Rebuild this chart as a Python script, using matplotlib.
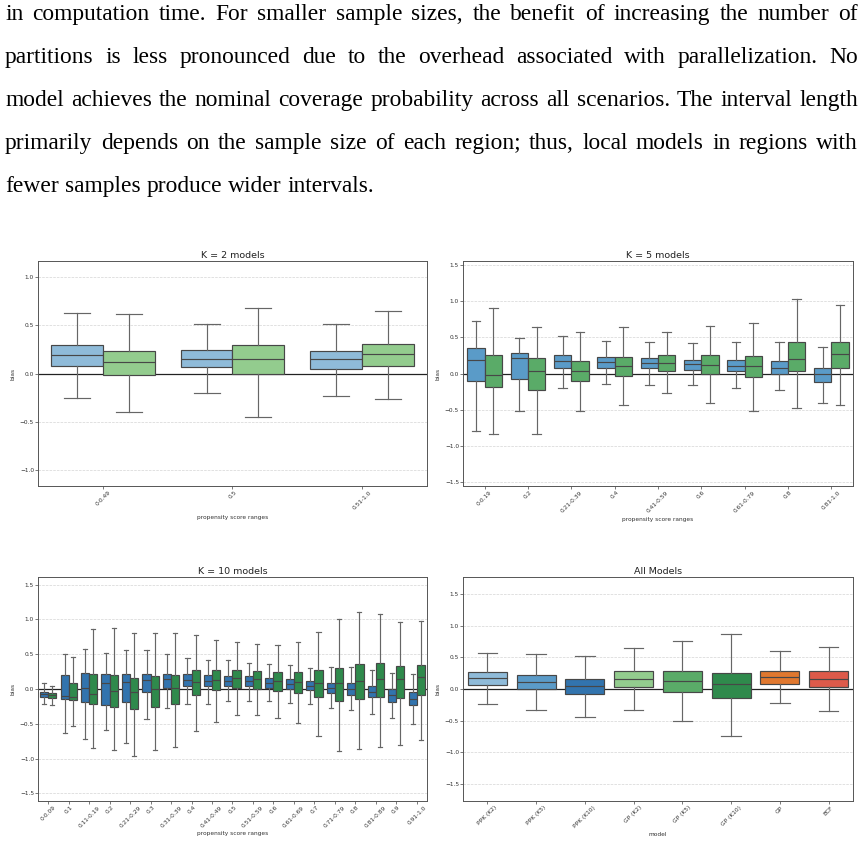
import numpy as np
import matplotlib
matplotlib.use('Agg')
from matplotlib import pyplot as plt
from matplotlib.ticker import MultipleLocator

# paragraph text shown above the figure
text_lines = [
    "in computation time.  For smaller sample sizes, the benefit of increasing the number of",
    "partitions is less pronounced due to the overhead associated with parallelization.  No",
    "model achieves the nominal coverage probability across all scenarios. The interval length",
    "primarily depends on the sample size of each region; thus, local models in regions with",
    "fewer samples produce wider intervals.",
]

# box stats, each row = [whislo, q1, median, q3, whishi]
k2_labels = ['0-0.49', '0.5', '0.51-1.0']
k2_ppk = [[-0.25, 0.08, 0.19, 0.295, 0.625],
          [-0.205, 0.063, 0.156, 0.247, 0.51],
          [-0.23, 0.052, 0.146, 0.233, 0.517]]
k2_gp = [[-0.405, -0.017, 0.115, 0.233, 0.618],
         [-0.45, -0.01, 0.156, 0.30, 0.68],
         [-0.264, 0.08, 0.198, 0.302, 0.646]]

k5_labels = ['0-0.19', '0.2', '0.21-0.39', '0.4', '0.41-0.59',
             '0.6', '0.61-0.79', '0.8', '0.81-1.0']
k5_ppk = [[-0.79, -0.11, 0.19, 0.35, 0.72],
          [-0.52, -0.07, 0.21, 0.28, 0.49],
          [-0.20, 0.07, 0.17, 0.25, 0.52],
          [-0.14, 0.08, 0.16, 0.23, 0.45],
          [-0.16, 0.07, 0.14, 0.21, 0.44],
          [-0.16, 0.05, 0.13, 0.19, 0.42],
          [-0.20, 0.03, 0.11, 0.19, 0.43],
          [-0.23, 0.0, 0.08, 0.17, 0.43],
          [-0.41, -0.12, -0.01, 0.08, 0.37]]
k5_gp = [[-0.84, -0.19, -0.02, 0.25, 0.90],
         [-0.84, -0.23, 0.03, 0.21, 0.64],
         [-0.51, -0.11, 0.04, 0.17, 0.57],
         [-0.44, -0.04, 0.11, 0.23, 0.64],
         [-0.27, 0.04, 0.14, 0.25, 0.57],
         [-0.41, -0.01, 0.12, 0.25, 0.66],
         [-0.51, -0.05, 0.10, 0.24, 0.70],
         [-0.47, 0.03, 0.20, 0.43, 1.03],
         [-0.44, 0.08, 0.27, 0.43, 0.94]]

k10_labels = ['0-0.09', '0.1', '0.11-0.19', '0.2', '0.21-0.29', '0.3',
              '0.31-0.39', '0.4', '0.41-0.49', '0.5', '0.51-0.59', '0.6',
              '0.61-0.69', '0.7', '0.71-0.79', '0.8', '0.81-0.89', '0.9',
              '0.91-1.0']
k10_ppk = [[-0.21, -0.11, -0.07, -0.04, 0.08],
           [-0.63, -0.15, -0.10, 0.20, 0.51],
           [-0.72, -0.18, 0.01, 0.23, 0.57],
           [-0.59, -0.23, 0.08, 0.22, 0.52],
           [-0.78, -0.19, 0.10, 0.21, 0.56],
           [-0.43, -0.04, 0.13, 0.22, 0.56],
           [-0.28, 0.01, 0.14, 0.21, 0.50],
           [-0.21, 0.04, 0.13, 0.21, 0.44],
           [-0.21, 0.04, 0.11, 0.20, 0.42],
           [-0.17, 0.04, 0.11, 0.19, 0.41],
           [-0.17, 0.04, 0.11, 0.18, 0.37],
           [-0.17, 0.02, 0.09, 0.16, 0.36],
           [-0.20, 0.0, 0.07, 0.14, 0.35],
           [-0.22, -0.02, 0.05, 0.11, 0.30],
           [-0.27, -0.06, 0.02, 0.09, 0.31],
           [-0.30, -0.08, 0.0, 0.08, 0.31],
           [-0.36, -0.12, -0.05, 0.04, 0.28],
           [-0.42, -0.18, -0.09, 0.0, 0.23],
           [-0.50, -0.23, -0.15, -0.05, 0.21]]
k10_gp = [[-0.23, -0.13, -0.09, -0.06, 0.05],
          [-0.53, -0.16, -0.12, 0.08, 0.46],
          [-0.85, -0.21, -0.07, 0.22, 0.86],
          [-0.87, -0.26, -0.03, 0.20, 0.88],
          [-0.97, -0.29, -0.04, 0.16, 0.80],
          [-0.87, -0.26, 0.0, 0.19, 0.80],
          [-0.83, -0.21, 0.01, 0.20, 0.80],
          [-0.61, -0.09, 0.10, 0.27, 0.78],
          [-0.47, -0.02, 0.13, 0.27, 0.71],
          [-0.38, 0.01, 0.16, 0.27, 0.67],
          [-0.37, 0.0, 0.15, 0.26, 0.64],
          [-0.41, -0.03, 0.11, 0.24, 0.63],
          [-0.49, -0.06, 0.10, 0.24, 0.67],
          [-0.67, -0.11, 0.08, 0.27, 0.82],
          [-0.89, -0.17, 0.08, 0.30, 1.01],
          [-0.86, -0.14, 0.11, 0.36, 1.10],
          [-0.83, -0.12, 0.14, 0.37, 1.08],
          [-0.80, -0.13, 0.15, 0.33, 0.97],
          [-0.74, -0.09, 0.17, 0.34, 0.98]]

all_labels = ['PPK (K2)', 'PPK (K5)', 'PPK (K10)', 'GP (K2)', 'GP (K5)',
              'GP (K10)', 'GP', 'BCF']
all_stats = [[-0.24, 0.06, 0.17, 0.27, 0.57],
             [-0.33, 0.0, 0.116, 0.22, 0.55],
             [-0.44, -0.08, 0.05, 0.16, 0.52],
             [-0.33, 0.03, 0.16, 0.28, 0.65],
             [-0.51, -0.04, 0.12, 0.28, 0.76],
             [-0.74, -0.14, 0.08, 0.26, 0.87],
             [-0.22, 0.08, 0.19, 0.29, 0.60],
             [-0.34, 0.03, 0.16, 0.29, 0.66]]
all_colors = ['#8fbbd9', '#5b9bc8', '#3274ae', '#93cc8e', '#5aab68',
              '#2f8a4c', '#e0782f', '#dd5a4a']

EDGE = '#474747'
WHISK = '#666666'
W, H = 864, 844

fig = plt.figure(figsize=(W / 100, H / 100), dpi=100)


def px_rect(box):
    left, top, right, bottom = box
    return [left / W, 1 - bottom / H, (right - left) / W, (bottom - top) / H]


def to_stats(rows):
    return [dict(whislo=r[0], q1=r[1], med=r[2], q3=r[3], whishi=r[4], fliers=[])
            for r in rows]


def draw_boxes(ax, rows, positions, width, colors):
    bp = ax.bxp(to_stats(rows), positions=positions, widths=width,
                capwidths=width / 2, patch_artist=True, showfliers=False,
                manage_ticks=False,
                boxprops=dict(edgecolor=EDGE, linewidth=0.85),
                whiskerprops=dict(color=WHISK, linewidth=0.85),
                capprops=dict(color=WHISK, linewidth=0.85),
                medianprops=dict(color=EDGE, linewidth=0.85))
    for patch, c in zip(bp['boxes'], colors):
        patch.set_facecolor(c)
        patch.set_zorder(2)


# box is (left, top, right, bottom) in pixels, label_top is pixel y of x label
def style_axes(ax, box, title, ylim, labels, xlabel, label_top):
    left, top, right, bottom = box
    ax.set_xlim(-0.5, len(labels) - 0.5)
    ax.set_ylim(-ylim, ylim)
    ax.yaxis.set_major_locator(MultipleLocator(0.5))
    ax.set_xticks(range(len(labels)))
    ax.set_xticklabels(labels, rotation=45)
    ax.tick_params(labelsize=4.2, length=2, width=0.5, pad=0.8,
                   colors='#444444', labelcolor='#333333')
    ax.yaxis.grid(True, linestyle='--', linewidth=0.5, color='#d5d5d5')
    ax.set_axisbelow(True)
    ax.axhline(0, color='#222222', linewidth=0.9, zorder=1)
    for sp in ax.spines.values():
        sp.set_linewidth(0.7)
        sp.set_color('#555555')
    ax.set_title(title, fontsize=6.8, pad=1.8, color='#222222')
    ax.set_ylabel('bias', fontsize=4.2, color='#333333')
    ax.set_xlabel(xlabel, fontsize=4.2, color='#333333')
    ax.yaxis.set_label_coords(-22.5 / (right - left), 0.5)
    ax.xaxis.set_label_coords(0.5, -(label_top - bottom) / (bottom - top))


def pair_panel(box, title, ylim, labels, ppk, gp, c_ppk, c_gp, label_top):
    ax = fig.add_axes(px_rect(box))
    x = np.arange(len(labels))
    draw_boxes(ax, ppk, x - 0.2, 0.4, [c_ppk] * len(labels))
    draw_boxes(ax, gp, x + 0.2, 0.4, [c_gp] * len(labels))
    style_axes(ax, box, title, ylim, labels, 'propensity score ranges', label_top)
    return ax


pair_panel((38, 261, 427, 486), 'K = 2 models', 1.17, k2_labels, k2_ppk, k2_gp,
           '#8fbbd9', '#93cc8e', 515.5)
pair_panel((463, 261, 853, 486), 'K = 5 models', 1.55, k5_labels, k5_ppk, k5_gp,
           '#5a9bc8', '#5aab68', 517.5)
pair_panel((38, 577, 427, 801), 'K = 10 models', 1.61, k10_labels, k10_ppk, k10_gp,
           '#3274ae', '#2f8a4c', 831.5)

box_br = (463, 577, 853, 801)
ax4 = fig.add_axes(px_rect(box_br))
draw_boxes(ax4, all_stats, np.arange(len(all_labels)), 0.8, all_colors)
style_axes(ax4, box_br, 'All Models', 1.77, all_labels, 'model', 831.5)

# justified paragraph text on top
renderer = fig.canvas.get_renderer()
serif = 'Liberation Serif'


def text_width(s, size):
    t = fig.text(0, 0, s, fontsize=size, family=serif)
    w = t.get_window_extent(renderer).width
    t.remove()
    return w


x0, x1 = 5, 858
baselines = [20, 63, 106, 149, 192]
base = 10.0
full_w = max(text_width(l, base) for l in text_lines[:-1])
size = base * (x1 - x0) / full_w * 0.985

for i, line in enumerate(text_lines):
    words = line.split()
    widths = [text_width(w, size) for w in words]
    if i < len(text_lines) - 1:
        gap = (x1 - x0 - sum(widths)) / (len(words) - 1)
    else:
        gap = text_width('a a', size) - text_width('aa', size)
    x = x0
    for w, wd in zip(words, widths):
        fig.text(x / W, 1 - baselines[i] / H, w, fontsize=size, family=serif,
                 va='baseline', ha='left', color='black')
        x += wd + gap

fig.savefig('out.png', dpi=100)
